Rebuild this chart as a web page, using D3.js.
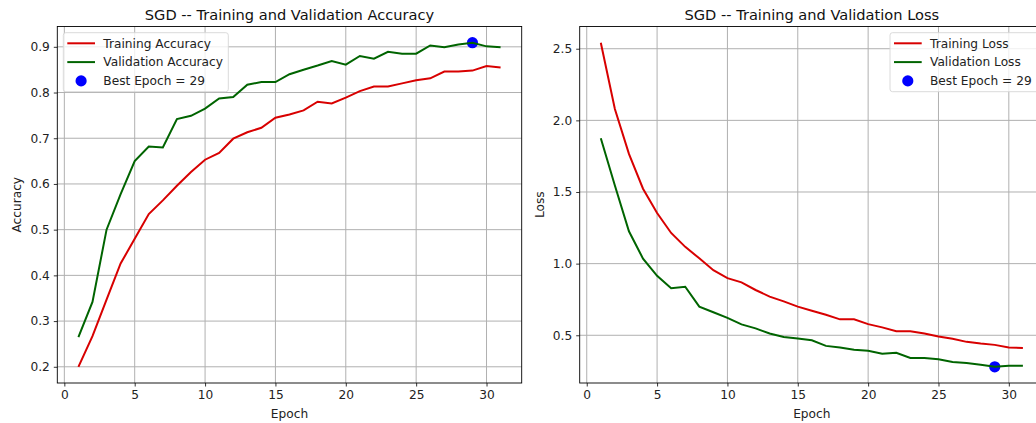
<!DOCTYPE html>
<html>
<head>
<meta charset="utf-8">
<script src="https://cdn.jsdelivr.net/npm/d3@7"></script>
<style>
  html, body { margin: 0; padding: 0; background: #fff; overflow: hidden; }
  svg { display: block; font-family: "DejaVu Sans", sans-serif; }
</style>
</head>
<body>
<svg id="chart" width="1036" height="423"></svg>
<script>
// epochs 1..31
var epochs = d3.range(1, 32)

var trainAcc = [0.200, 0.267, 0.347, 0.426, 0.480, 0.534, 0.564, 0.596, 0.626, 0.653,
  0.668, 0.699, 0.713, 0.723, 0.745, 0.752, 0.761, 0.780, 0.776, 0.789,
  0.803, 0.813, 0.813, 0.820, 0.827, 0.831, 0.846, 0.846, 0.848, 0.858, 0.855]

var valAcc = [0.265, 0.342, 0.500, 0.578, 0.650, 0.682, 0.680, 0.742, 0.749, 0.765,
  0.787, 0.790, 0.817, 0.823, 0.823, 0.840, 0.850, 0.859, 0.869, 0.861,
  0.880, 0.874, 0.889, 0.885, 0.885, 0.903, 0.899, 0.905, 0.909, 0.901, 0.899]

var trainLoss = [2.542, 2.079, 1.766, 1.523, 1.353, 1.214, 1.117, 1.037, 0.954, 0.899,
  0.869, 0.816, 0.770, 0.737, 0.700, 0.671, 0.643, 0.611, 0.611, 0.578,
  0.555, 0.528, 0.528, 0.512, 0.491, 0.475, 0.454, 0.442, 0.433, 0.415, 0.412]

var valLoss = [1.875, 1.545, 1.226, 1.035, 0.915, 0.829, 0.839, 0.700, 0.661, 0.622,
  0.576, 0.548, 0.512, 0.488, 0.477, 0.465, 0.426, 0.415, 0.399, 0.392,
  0.371, 0.378, 0.341, 0.341, 0.332, 0.313, 0.306, 0.295, 0.280, 0.288, 0.288]

var bestEpoch = 29

var xTicks = [0, 5, 10, 15, 20, 25, 30]
var accTicks = [0.2, 0.3, 0.4, 0.5, 0.6, 0.7, 0.8, 0.9]
var lossTicks = [0.5, 1.0, 1.5, 2.0, 2.5]

var RED = "#d80000"
var GREEN = "#006400"
var BLUE = "#0000ff"
var FS = "12.2px"

var svg = d3.select("#chart")

function pad(ext) {
  var m = (ext[1] - ext[0]) * 0.05
  return [ext[0] - m, ext[1] + m]
}

function drawPanel(opts) {
  var left = opts.left, right = opts.right, top = 26.5, bottom = 383

  var x = d3.scaleLinear().domain(pad([1, 31])).range([left, right])
  var allY = opts.train.concat(opts.val)
  var y = d3.scaleLinear().domain(pad(d3.extent(allY))).range([bottom, top])

  var g = svg.append("g")

  // grid
  g.append("g").selectAll("line").data(xTicks).enter().append("line")
    .attr("x1", d => x(d)).attr("x2", d => x(d))
    .attr("y1", top).attr("y2", bottom)
    .attr("stroke", "#b0b0b0").attr("stroke-width", 1)
  g.append("g").selectAll("line").data(opts.yTicks).enter().append("line")
    .attr("x1", left).attr("x2", right)
    .attr("y1", d => y(d)).attr("y2", d => y(d))
    .attr("stroke", "#b0b0b0").attr("stroke-width", 1)

  var line = d3.line().x((d, i) => x(epochs[i])).y(d => y(d))

  var bi = bestEpoch - 1
  g.append("circle")
    .attr("cx", x(bestEpoch)).attr("cy", y(opts.val[bi]))
    .attr("r", 5.6).attr("fill", BLUE)

  g.append("path").datum(opts.train).attr("d", line)
    .attr("fill", "none").attr("stroke", RED).attr("stroke-width", 2)
  g.append("path").datum(opts.val).attr("d", line)
    .attr("fill", "none").attr("stroke", GREEN).attr("stroke-width", 2)

  // axes
  var xAxis = d3.axisBottom(x).tickValues(xTicks).tickSize(3.5).tickPadding(4).tickFormat(d3.format("d"))
  var yAxis = d3.axisLeft(y).tickValues(opts.yTicks).tickSize(3.5).tickPadding(4).tickFormat(d3.format(".1f"))

  var gx = g.append("g").attr("transform", "translate(0," + bottom + ")").call(xAxis)
  var gy = g.append("g").attr("transform", "translate(" + left + ",0)").call(yAxis)
  ;[gx, gy].forEach(function (a) {
    a.select(".domain").remove()
    a.selectAll(".tick line").attr("stroke", "#000").attr("stroke-width", 0.8)
    a.selectAll(".tick text").attr("fill", "#222").style("font-size", FS)
      .style("font-family", "DejaVu Sans")
  })

  // frame
  g.append("rect").attr("x", left).attr("y", top)
    .attr("width", right - left).attr("height", bottom - top)
    .attr("fill", "none").attr("stroke", "#000").attr("stroke-width", 0.9)

  // titles
  g.append("text").attr("x", (left + right) / 2).attr("y", 20)
    .attr("text-anchor", "middle").style("font-size", "14.6px").attr("fill", "#111")
    .text(opts.title)
  g.append("text").attr("x", (left + right) / 2).attr("y", 418)
    .attr("text-anchor", "middle").style("font-size", FS).attr("fill", "#222")
    .text("Epoch")
  g.append("text")
    .attr("transform", "translate(" + opts.yLabelX + "," + ((top + bottom) / 2) + ") rotate(-90)")
    .attr("text-anchor", "middle").style("font-size", FS).attr("fill", "#222")
    .text(opts.yLabel)

  // legend
  var lg = g.append("g").attr("transform", "translate(" + opts.legendX + ",32.7)")
  lg.append("rect").attr("width", opts.legendW).attr("height", 59).attr("rx", 2.5)
    .attr("fill", "#fff").attr("fill-opacity", 0.8).attr("stroke", "#d6d6d6").attr("stroke-width", 0.9)
  var items = [
    { label: opts.names[0], color: RED, kind: "line" },
    { label: opts.names[1], color: GREEN, kind: "line" },
    { label: "Best Epoch = " + bestEpoch, color: BLUE, kind: "dot" }
  ]
  items.forEach(function (it, i) {
    var cy = 10.6 + i * 18.8
    if (it.kind == "line") {
      lg.append("line").attr("x1", 4).attr("x2", 31.7).attr("y1", cy).attr("y2", cy)
        .attr("stroke", it.color).attr("stroke-width", 2)
    } else {
      lg.append("circle").attr("cx", 17.8).attr("cy", cy).attr("r", 5.6).attr("fill", it.color)
    }
    lg.append("text").attr("x", 40).attr("y", cy + 4.3).style("font-size", FS).attr("fill", "#222")
      .text(it.label)
  })
}

drawPanel({
  left: 57.3, right: 521.7,
  train: trainAcc, val: valAcc, yTicks: accTicks,
  title: "SGD -- Training and Validation Accuracy",
  yLabel: "Accuracy", yLabelX: 21,
  names: ["Training Accuracy", "Validation Accuracy"],
  legendX: 63.3, legendW: 165
})

drawPanel({
  left: 579.7, right: 1044,
  train: trainLoss, val: valLoss, yTicks: lossTicks,
  title: "SGD -- Training and Validation Loss",
  yLabel: "Loss", yLabelX: 544,
  names: ["Training Loss", "Validation Loss"],
  legendX: 890, legendW: 160
})
</script>
</body>
</html>
